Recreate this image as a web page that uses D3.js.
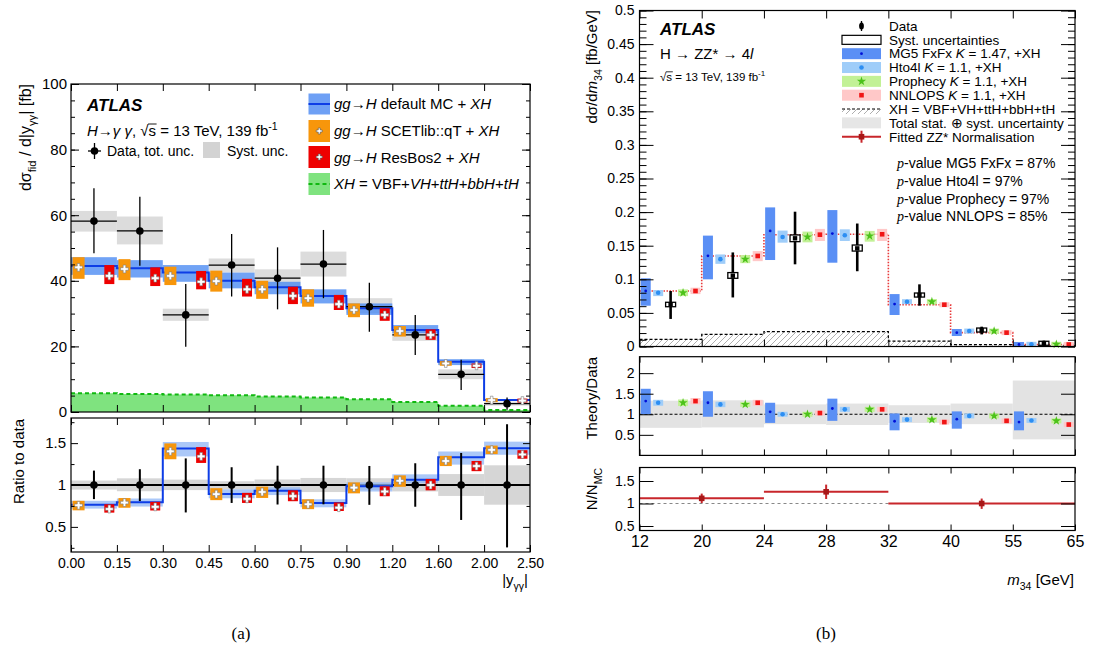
<!DOCTYPE html>
<html><head><meta charset="utf-8">
<script src="https://cdn.jsdelivr.net/npm/d3@7"></script>
<style>
body{margin:0;background:#fff;}
svg{font-family:"Liberation Sans",Arial,Helvetica,sans-serif;}
</style></head><body>
<svg id="c" width="1095" height="647" xmlns="http://www.w3.org/2000/svg"></svg>
<script>
// ================= DATA : panel (a) =================
const aEdges = [0, 0.15, 0.30, 0.45, 0.60, 0.75, 0.90, 1.20, 1.60, 2.00, 2.50];
const aEdgeLabels = ["0.00","0.15","0.30","0.45","0.60","0.75","0.90","1.20","1.60","2.00","2.50"];
const aData     = [58.2, 55.2, 29.6, 44.8, 40.8, 45.1, 32.1, 23.5, 11.5, 2.55];
const aTotHi    = [68.2, 65.6, 39.0, 54.3, 50.2, 55.5, 39.4, 29.6, 15.9, 4.4];
const aTotLo    = [48.4, 44.6, 19.9, 35.2, 31.3, 34.7, 24.5, 17.4, 6.7, 0.65];
const aSystHi   = [61.3, 59.6, 31.5, 46.8, 43.5, 48.9, 34.7, 25.0, 13.0, 3.15];
const aSystLo   = [55.0, 51.1, 27.8, 42.5, 38.2, 41.3, 30.2, 21.7, 10.0, 1.95];
const aDefault   = [44.5, 43.8, 42.5, 40.0, 38.0, 35.4, 31.6, 25.0, 15.3, 3.67];
const aDefaultHi = [47.2, 46.3, 44.8, 42.5, 39.7, 37.4, 33.1, 26.5, 16.1, 3.87];
const aDefaultLo = [41.8, 41.0, 39.7, 37.7, 35.9, 33.1, 29.6, 24.0, 14.3, 3.47];
const aScet      = [44.1, 43.6, 41.5, 39.9, 37.4, 34.7, 31.1, 24.7, 14.8, 3.62];
const aScetHi    = [47.2, 46.6, 44.3, 43.1, 40.0, 37.4, 33.1, 26.2, 15.5, 3.75];
const aScetLo    = [40.6, 40.2, 38.7, 36.7, 34.5, 32.1, 28.9, 23.0, 14.1, 3.49];
const aResbos    = [41.5, 40.8, 39.7, 37.4, 35.4, 32.9, 29.6, 23.5, 14.1, 3.48];
const aResbosHi  = [44.8, 44.1, 43.0, 40.6, 38.2, 35.7, 31.6, 25.2, 14.8, 3.61];
const aResbosLo  = [39.0, 38.4, 37.4, 35.2, 32.9, 31.1, 27.8, 22.0, 13.4, 3.35];
const aXH        = [5.7, 5.5, 5.3, 5.1, 4.7, 4.45, 3.85, 3.05, 1.93, 0.6];
const aYTicks = [0, 20, 40, 60, 80, 100];
const aRTicks = [0.5, 1, 1.5];

// ================= DATA : panel (b) =================
const bEdges = [12, 20, 24, 28, 32, 40, 55, 65];
const bEdgeLabels = ["12","20","24","28","32","40","55","65"];
const bData     = [0.0628, 0.1054, 0.161, 0.146, 0.0766, 0.0245, 0.0048];
const bTotHi    = [0.0826, 0.140, 0.2006, 0.183, 0.0925, 0.0295, 0.0087];
const bTotLo    = [0.041, 0.073, 0.1223, 0.112, 0.0607, 0.018, 0.0009];
const bSystHi   = [0.0658, 0.110, 0.166, 0.151, 0.079, 0.0265, 0.0058];
const bSystLo   = [0.0592, 0.1015, 0.156, 0.142, 0.073, 0.022, 0.0038];
const bMG5      = [0.0826, 0.135, 0.172, 0.168, 0.0632, 0.0206, 0.0030];
const bMG5Hi    = [0.1015, 0.165, 0.207, 0.203, 0.078, 0.026, 0.0048];
const bMG5Lo    = [0.0607, 0.100, 0.1287, 0.1247, 0.0469, 0.0156, 0.0012];
const bHto4l    = [0.080, 0.130, 0.163, 0.1655, 0.0667, 0.023, 0.0033];
const bHto4lHi  = [0.084, 0.137, 0.1725, 0.1744, 0.0702, 0.024, 0.00345];
const bHto4lLo  = [0.075, 0.123, 0.1545, 0.157, 0.0632, 0.022, 0.00315];
const bProph    = [0.080, 0.130, 0.163, 0.1644, 0.0667, 0.023, 0.0033];
const bProphHi  = [0.085, 0.136, 0.171, 0.172, 0.0707, 0.024, 0.00345];
const bProphLo  = [0.075, 0.124, 0.155, 0.156, 0.0628, 0.022, 0.00315];
const bNNLOPS   = [0.0826, 0.1347, 0.1664, 0.167, 0.0622, 0.0206, 0.0030];
const bNNLOPSHi = [0.0875, 0.142, 0.175, 0.175, 0.0658, 0.0215, 0.00315];
const bNNLOPSLo = [0.078, 0.127, 0.157, 0.157, 0.0583, 0.0197, 0.00285];
const bXH       = [0.0107, 0.018, 0.022, 0.022, 0.008, 0.0027, 0.001];
// Theory / Data
const rMG5      = [1.32, 1.28, 1.06, 1.14, 0.83, 0.88, 0.81];
const rMG5Hi    = [1.62, 1.56, 1.28, 1.38, 1.02, 1.07, 1.07];
const rMG5Lo    = [1.00, 0.94, 0.79, 0.84, 0.61, 0.65, 0.61];
const rHto4l    = [1.28, 1.24, 1.00, 1.12, 0.87, 0.96, 0.85];
const rProph    = [1.28, 1.24, 1.00, 1.12, 0.87, 0.96, 0.84];
const rNNLOPS   = [1.32, 1.28, 1.03, 1.12, 0.81, 0.84, 0.75];
const rTotHi    = [1.33, 1.34, 1.24, 1.26, 1.22, 1.26, 1.82];
const rTotLo    = [0.67, 0.68, 0.76, 0.74, 0.79, 0.76, 0.39];
// N / N_MC (fitted ZZ* normalisation)
const normLo  = [12, 24, 32];
const normHi  = [24, 32, 65];
const normX   = [20, 28, 47.5];
const normVal = [1.115, 1.26, 1.0];
const normUp  = [1.22, 1.42, 1.11];
const normDn  = [1.01, 1.10, 0.88];
const bYTicks = [0, 0.05, 0.1, 0.15, 0.2, 0.25, 0.3, 0.35, 0.4, 0.45, 0.5];
const bRTicks = [0.5, 1, 1.5, 2];
const bNTicks = [0.5, 1, 1.5];
const pValues = [["MG5 FxFx", "87%"], ["Hto4l", "97%"], ["Prophecy", "97%"], ["NNLOPS", "85%"]];

// ================= HELPERS =================
const FONT = '"Liberation Sans", Arial, Helvetica, sans-serif';
const SERIF = '"Liberation Serif", "DejaVu Serif", serif';
const svg = d3.select("#c");
const defs = svg.append("defs");
defs.append("pattern").attr("id","hatch").attr("patternUnits","userSpaceOnUse")
  .attr("width",6).attr("height",6)
  .append("path").attr("d","M-1,1 L1,-1 M0,6 L6,0 M5,7 L7,5")
  .attr("stroke","#9a9a9a").attr("stroke-width",0.8);

function rich(g, x, y, parts, size, opts = {}) {
  const t = g.append("text").attr("font-size", size).attr("font-family", FONT).attr("fill", "#000");
  if (opts.rotate) t.attr("transform", `translate(${x},${y}) rotate(-90)`).attr("x",0).attr("y",0);
  else t.attr("x", x).attr("y", y);
  if (opts.anchor) t.attr("text-anchor", opts.anchor);
  if (opts.weight) t.attr("font-weight", opts.weight);
  if (opts.style) t.attr("font-style", opts.style);
  let shift = 0;
  const overl = [];
  parts.forEach(p => {
    const [txt, st] = typeof p === "string" ? [p, ""] : p;
    const fl = st.split(" ");
    const ts = t.append("tspan").text(txt);
    let target = 0;
    if (fl.includes("sub")) { target = size * 0.3; ts.attr("font-size", size * 0.7); }
    if (fl.includes("sup")) { target = -size * 0.4; ts.attr("font-size", size * 0.7); }
    if (target !== shift) { ts.attr("dy", target - shift); shift = target; }
    if (fl.includes("i")) ts.attr("font-style", "italic");
    if (fl.includes("serif")) ts.attr("font-family", SERIF);
    if (fl.includes("ol")) overl.push(ts);
  });
  overl.forEach(ts => {
    const bb = ts.node().getBBox();
    const yy = y - size * 0.8;
    g.append("line").attr("x1", bb.x - 0.5).attr("x2", bb.x + bb.width + 0.5)
      .attr("y1", yy).attr("y2", yy).attr("stroke", "#000").attr("stroke-width", Math.max(0.8, size * 0.06));
  });
  return t;
}

function axis(g, orient, scale, pos, values, size, fmt, fontSize, pad) {
  const gen = {left: d3.axisLeft, right: d3.axisRight, top: d3.axisTop, bottom: d3.axisBottom}[orient];
  const ax = gen(scale).tickValues(values).tickSizeInner(-size).tickSizeOuter(0)
    .tickPadding(pad || 4).tickFormat(fmt || (() => ""));
  const vert = orient === "left" || orient === "right";
  const sel = g.append("g").attr("transform", vert ? `translate(${pos},0)` : `translate(0,${pos})`).call(ax);
  sel.select(".domain").remove();
  sel.selectAll("line").attr("stroke", "#000").attr("stroke-width", 1);
  sel.selectAll("text").attr("font-size", fontSize || 14).attr("font-family", FONT).attr("fill", "#000");
  return sel;
}
function frame(g, x0, y0, x1, y1) {
  g.append("rect").attr("x", x0).attr("y", y0).attr("width", x1 - x0).attr("height", y1 - y0)
    .attr("fill", "none").attr("stroke", "#000").attr("stroke-width", 1.2);
}
const stepPts = (vals, edges) => edges.map((e, i) => ({x: e, y: vals[Math.min(i, vals.length - 1)]}));

// ================= PANEL (a) =================
const aL = 71, aR = 530, aT = 84, aB = 412, arT = 418, arB = 552;
const xA = d3.scaleLinear().domain(aEdges)
  .range(aEdges.map((e, i) => aL + i * (aR - aL) / (aEdges.length - 1)));
const yA = d3.scaleLinear().domain([0, 100]).range([aB, aT]);
const rA = d3.scaleLinear().domain([0.2, 1.8]).range([arB, arT]);
const binsA = d3.range(aData.length).map(i => ({i, lo: aEdges[i], hi: aEdges[i + 1]}));
const atA = (b, f) => xA(b.lo + f * (b.hi - b.lo));
const gA = svg.append("g");

// XH green area
gA.append("path").datum(stepPts(aXH, aEdges))
  .attr("d", d3.area().curve(d3.curveStepAfter).x(d => xA(d.x)).y0(yA(0)).y1(d => yA(d.y)))
  .attr("fill", "#7fe37f");
gA.append("path").datum(stepPts(aXH, aEdges))
  .attr("d", d3.line().curve(d3.curveStepAfter).x(d => xA(d.x)).y(d => yA(d.y)))
  .attr("fill", "none").attr("stroke", "#10b810").attr("stroke-width", 2).attr("stroke-dasharray", "4,3");
// syst boxes
gA.selectAll(".sys").data(binsA).enter().append("rect")
  .attr("x", b => xA(b.lo)).attr("width", b => xA(b.hi) - xA(b.lo))
  .attr("y", b => yA(aSystHi[b.i])).attr("height", b => yA(aSystLo[b.i]) - yA(aSystHi[b.i]))
  .attr("fill", "#dcdcdc");
// default MC band + line
gA.selectAll(".band").data(binsA).enter().append("rect")
  .attr("x", b => xA(b.lo)).attr("width", b => xA(b.hi) - xA(b.lo))
  .attr("y", b => yA(aDefaultHi[b.i])).attr("height", b => yA(aDefaultLo[b.i]) - yA(aDefaultHi[b.i]))
  .attr("fill", "#4d8cf3").attr("fill-opacity", 0.8);
gA.append("path").datum(stepPts(aDefault, aEdges))
  .attr("d", d3.line().curve(d3.curveStepAfter).x(d => xA(d.x)).y(d => yA(d.y)))
  .attr("fill", "none").attr("stroke", "#0d3de6").attr("stroke-width", 2);
// data bars
gA.selectAll(".dh").data(binsA).enter().append("line")
  .attr("x1", b => xA(b.lo)).attr("x2", b => xA(b.hi))
  .attr("y1", b => yA(aData[b.i])).attr("y2", b => yA(aData[b.i])).attr("stroke", "#000").attr("stroke-width", 1.3);
gA.selectAll(".dv").data(binsA).enter().append("line")
  .attr("x1", b => atA(b, 0.5)).attr("x2", b => atA(b, 0.5))
  .attr("y1", b => yA(aTotHi[b.i])).attr("y2", b => yA(aTotLo[b.i])).attr("stroke", "#000").attr("stroke-width", 1.3);
// prediction boxes with open crosses
function predBoxes(g, yS, center, hi, lo, frac, w, color, norm, minH, csize) {
  const nv = (arr, i) => norm ? arr[i] / norm[i] : arr[i];
  g.selectAll(null).data(binsA).enter().append("rect")
    .attr("x", b => atA(b, frac) - w / 2).attr("width", w)
    .attr("y", b => Math.min(yS(nv(hi, b.i)), yS(nv(center, b.i)) - minH / 2))
    .attr("height", b => Math.max(minH, yS(nv(lo, b.i)) - yS(nv(hi, b.i))))
    .attr("fill", color);
  g.selectAll(null).data(binsA).enter().append("path")
    .attr("d", d3.symbol(d3.symbolCross, csize)).attr("transform", b => `translate(${atA(b, frac)},${yS(nv(center, b.i))})`)
    .attr("fill", "#fff").attr("stroke", "#7a7a7a").attr("stroke-width", 0.6);
}
predBoxes(gA, yA, aScet, aScetHi, aScetLo, 0.165, 12, "#f7960b", null, 4, 34);
predBoxes(gA, yA, aResbos, aResbosHi, aResbosLo, 0.835, 10, "#ee0000", null, 4, 34);
gA.selectAll(".dot").data(binsA).enter().append("circle")
  .attr("cx", b => atA(b, 0.5)).attr("cy", b => yA(aData[b.i])).attr("r", 3.8).attr("fill", "#000");

// axes (a) main
axis(gA, "left", yA, aL, aYTicks, 8, d3.format("d"), 15, 4);
axis(gA, "left", yA, aL, d3.range(0, 101, 5), 4);
axis(gA, "right", yA, aR, aYTicks, 8);
axis(gA, "right", yA, aR, d3.range(0, 101, 5), 4);
axis(gA, "top", xA, aT, aEdges, 7);
axis(gA, "bottom", xA, aB, aEdges, 7);
frame(gA, aL, aT, aR, aB);

// ratio (a)
const gAr = svg.append("g");
gAr.selectAll(null).data(binsA).enter().append("rect")
  .attr("x", b => xA(b.lo)).attr("width", b => xA(b.hi) - xA(b.lo))
  .attr("y", b => rA(aSystHi[b.i] / aData[b.i])).attr("height", b => rA(aSystLo[b.i] / aData[b.i]) - rA(aSystHi[b.i] / aData[b.i]))
  .attr("fill", "#d6d6d6");
gAr.append("line").attr("x1", aL).attr("x2", aR).attr("y1", rA(1)).attr("y2", rA(1)).attr("stroke", "#000").attr("stroke-width", 2.2);
gAr.selectAll(null).data(binsA).enter().append("rect")
  .attr("x", b => xA(b.lo)).attr("width", b => xA(b.hi) - xA(b.lo))
  .attr("y", b => rA(aDefaultHi[b.i] / aData[b.i])).attr("height", b => rA(aDefaultLo[b.i] / aData[b.i]) - rA(aDefaultHi[b.i] / aData[b.i]))
  .attr("fill", "#8fb6f6").attr("fill-opacity", 0.75);
gAr.append("path").datum(stepPts(aDefault.map((v, i) => v / aData[i]), aEdges))
  .attr("d", d3.line().curve(d3.curveStepAfter).x(d => xA(d.x)).y(d => rA(d.y)))
  .attr("fill", "none").attr("stroke", "#0d3de6").attr("stroke-width", 2);
predBoxes(gAr, rA, aScet, aScetHi, aScetLo, 0.165, 12, "#f7960b", aData, 8, 34);
predBoxes(gAr, rA, aResbos, aResbosHi, aResbosLo, 0.835, 10, "#ee0000", aData, 8, 34);
gAr.selectAll(null).data(binsA).enter().append("line")
  .attr("x1", b => atA(b, 0.5)).attr("x2", b => atA(b, 0.5))
  .attr("y1", b => rA(Math.min(aTotHi[b.i] / aData[b.i], 1.8))).attr("y2", b => rA(Math.max(aTotLo[b.i] / aData[b.i], 0.2)))
  .attr("stroke", "#000").attr("stroke-width", 2);
gAr.selectAll(null).data(binsA).enter().append("circle")
  .attr("cx", b => atA(b, 0.5)).attr("cy", rA(1)).attr("r", 3.8).attr("fill", "#000");
axis(gAr, "left", rA, aL, aRTicks, 7, d3.format("~g"), 15, 5);
axis(gAr, "left", rA, aL, [0.25, 0.75, 1.25, 1.75], 3.5);
axis(gAr, "right", rA, aR, aRTicks, 7);
axis(gAr, "right", rA, aR, [0.25, 0.75, 1.25, 1.75], 3.5);
axis(gAr, "top", xA, arT, aEdges, 7);
axis(gAr, "bottom", xA, arB, aEdges, 7, (d, i) => aEdgeLabels[i], 14, 6);
frame(gAr, aL, arT, aR, arB);

// texts (a)
rich(gA, 87, 111, ["ATLAS"], 17, {weight: "bold", style: "italic"});
rich(gA, 87, 136, [["H", "i"], "→", ["γ γ", "i"], ", √", ["s", "ol"], " = 13 TeV, 139 fb", ["-1", "sup"]], 15);
gA.append("line").attr("x1", 88).attr("x2", 101).attr("y1", 151).attr("y2", 151).attr("stroke", "#000").attr("stroke-width", 1.3);
gA.append("line").attr("x1", 94.5).attr("x2", 94.5).attr("y1", 143).attr("y2", 159).attr("stroke", "#000").attr("stroke-width", 1.3);
gA.append("circle").attr("cx", 94.5).attr("cy", 151).attr("r", 3.8).attr("fill", "#000");
rich(gA, 107, 156, ["Data, tot. unc."], 14);
gA.append("rect").attr("x", 203).attr("y", 142).attr("width", 17).attr("height", 16).attr("fill", "#d3d3d3");
rich(gA, 227, 156, ["Syst. unc."], 14);
// legend (a)
const lgX = 308.5, lgW = 21.5;
gA.append("rect").attr("x", lgX).attr("y", 93.5).attr("width", lgW).attr("height", 21).attr("fill", "#6ea0f5");
gA.append("line").attr("x1", lgX).attr("x2", lgX + lgW).attr("y1", 104).attr("y2", 104).attr("stroke", "#0d3de6").attr("stroke-width", 2);
gA.append("rect").attr("x", lgX).attr("y", 120).attr("width", lgW).attr("height", 22).attr("fill", "#f7960b");
gA.append("path").attr("d", d3.symbol(d3.symbolCross, 20)).attr("transform", `translate(${lgX + lgW / 2},131)`).attr("fill", "#fff").attr("stroke", "#555").attr("stroke-width", 0.6);
gA.append("rect").attr("x", lgX).attr("y", 146).attr("width", lgW).attr("height", 22).attr("fill", "#ee0000");
gA.append("path").attr("d", d3.symbol(d3.symbolCross, 20)).attr("transform", `translate(${lgX + lgW / 2},157)`).attr("fill", "#fff").attr("stroke", "#555").attr("stroke-width", 0.6);
gA.append("rect").attr("x", lgX).attr("y", 173).attr("width", lgW).attr("height", 22).attr("fill", "#7fe37f");
gA.append("line").attr("x1", lgX).attr("x2", lgX + lgW).attr("y1", 184).attr("y2", 184).attr("stroke", "#10b810").attr("stroke-width", 2).attr("stroke-dasharray", "4,3");
const lgTx = 334;
rich(gA, lgTx, 109, [["gg", "i"], "→", ["H", "i"], " default MC + ", ["XH", "i"]], 15);
rich(gA, lgTx, 136, [["gg", "i"], "→", ["H", "i"], " SCETlib::qT + ", ["XH", "i"]], 15);
rich(gA, lgTx, 163, [["gg", "i"], "→", ["H", "i"], " ResBos2 + ", ["XH", "i"]], 15);
rich(gA, lgTx, 189, [["XH", "i"], " = VBF+", ["VH", "i"], "+", ["ttH", "i"], "+", ["bbH", "i"], "+", ["tH", "i"]], 15);
// axis titles (a)
rich(gA, 31, aT, ["dσ", ["fid", "sub"], " / d|y", ["γγ", "sub"], "| [fb]"], 16, {rotate: true, anchor: "end"});
rich(gA, 24, arT + 1, ["Ratio to data"], 15, {rotate: true, anchor: "end"});
rich(gA, 528, 585, ["|y", ["γγ", "sub"], "|"], 15, {anchor: "end"});
rich(gA, 241, 639, ["(a)"], 17, {anchor: "middle"}).attr("font-family", SERIF);

// ================= PANEL (b) =================
const bL = 639.5, bR = 1075, bT = 10.5, bB = 346.5;
const xB = d3.scaleLinear().domain(bEdges)
  .range(bEdges.map((e, i) => bL + i * (bR - bL) / (bEdges.length - 1)));
const yB = d3.scaleLinear().domain([0, 0.5]).range([bB, bT]);
const rB = d3.scaleLinear().domain([0, 2.4]).range([455.4, 356.7]);
const nB = d3.scaleLinear().domain([0.4, 1.8]).range([530.5, 467.5]);
const binsB = d3.range(bData.length).map(i => ({i, lo: bEdges[i], hi: bEdges[i + 1]}));
const atB = (b, f) => xB(b.lo + f * (b.hi - b.lo));
const gB = svg.append("g");
const BW = 10;

// XH hatched
gB.append("path").datum(stepPts(bXH, bEdges))
  .attr("d", d3.area().curve(d3.curveStepAfter).x(d => xB(d.x)).y0(yB(0)).y1(d => yB(d.y)))
  .attr("fill", "url(#hatch)");
gB.append("path").datum(stepPts(bXH, bEdges))
  .attr("d", d3.line().curve(d3.curveStepAfter).x(d => xB(d.x)).y(d => yB(d.y)))
  .attr("fill", "none").attr("stroke", "#000").attr("stroke-width", 1.2).attr("stroke-dasharray", "3,2");
// NNLOPS dotted step
gB.append("path").datum(stepPts(bNNLOPS, bEdges))
  .attr("d", d3.line().curve(d3.curveStepAfter).x(d => xB(d.x)).y(d => yB(d.y)))
  .attr("fill", "none").attr("stroke", "#e8393a").attr("stroke-width", 1.6).attr("stroke-dasharray", "1.5,1.5");

const models = [
  {v: bMG5, hi: bMG5Hi, lo: bMG5Lo, r: rMG5, f: 0.1, fill: "#5a8ff5", mark: "mg5"},
  {v: bHto4l, hi: bHto4lHi, lo: bHto4lLo, r: rHto4l, f: 0.3, fill: "#9fcdf9", mark: "hto4l"},
  {v: bProph, hi: bProphHi, lo: bProphLo, r: rProph, f: 0.7, fill: "#c2f196", mark: "proph"},
  {v: bNNLOPS, hi: bNNLOPSHi, lo: bNNLOPSLo, r: rNNLOPS, f: 0.9, fill: "#ffc8c8", mark: "nnlops"}
];
function marker(g, kind, x, y) {
  if (kind === "mg5") g.append("circle").attr("cx", x).attr("cy", y).attr("r", 1.4).attr("fill", "#0010d8");
  if (kind === "hto4l") g.append("circle").attr("cx", x).attr("cy", y).attr("r", 2.3).attr("fill", "#2d8ef2");
  if (kind === "proph") g.append("path").attr("d", d3.symbol(d3.symbolStar, 26)).attr("transform", `translate(${x},${y})`).attr("fill", "#4cc21a");
  if (kind === "nnlops") g.append("rect").attr("x", x - 2.3).attr("y", y - 2.3).attr("width", 4.6).attr("height", 4.6).attr("fill", "#f01515");
}
models.forEach(m => {
  gB.selectAll(null).data(binsB).enter().append("rect")
    .attr("x", b => atB(b, m.f) - BW / 2).attr("width", BW)
    .attr("y", b => Math.min(yB(m.hi[b.i]), yB(m.v[b.i]) - 2.5)).attr("height", b => Math.max(5, yB(m.lo[b.i]) - yB(m.hi[b.i])))
    .attr("fill", m.fill);
  binsB.forEach(b => marker(gB, m.mark, atB(b, m.f), yB(m.v[b.i])));
});
// data
gB.selectAll(null).data(binsB).enter().append("line")
  .attr("x1", b => atB(b, 0.5)).attr("x2", b => atB(b, 0.5))
  .attr("y1", b => yB(bTotHi[b.i])).attr("y2", b => yB(bTotLo[b.i]))
  .attr("stroke", "#000").attr("stroke-width", 2.6);
gB.selectAll(null).data(binsB).enter().append("rect")
  .attr("x", b => atB(b, 0.5) - 5).attr("width", 10)
  .attr("y", b => Math.min(yB(bSystHi[b.i]), yB(bData[b.i]) - 2))
  .attr("height", b => Math.max(4, yB(bSystLo[b.i]) - yB(bSystHi[b.i])))
  .attr("fill", "#fff").attr("stroke", "#000").attr("stroke-width", 1.3);
gB.selectAll(null).data(binsB).enter().append("rect")
  .attr("x", b => atB(b, 0.5) - 2.2).attr("y", b => yB(bData[b.i]) - 2.2).attr("width", 4.4).attr("height", 4.4)
  .attr("fill", "#000");

axis(gB, "left", yB, bL, bYTicks, 14, d3.format("~g"), 14, 5);
axis(gB, "left", yB, bL, d3.range(0, 51, 1).map(d => d / 100), 7);
axis(gB, "right", yB, bR, bYTicks, 14);
axis(gB, "right", yB, bR, d3.range(0, 51, 1).map(d => d / 100), 7);
axis(gB, "top", xB, bT, bEdges, 8);
axis(gB, "bottom", xB, bB, bEdges, 7);
frame(gB, bL, bT, bR, bB);

// texts (b)
rich(gB, 660, 35, ["ATLAS"], 17, {weight: "bold", style: "italic"});
rich(gB, 660, 59, ["H → ZZ* → 4", ["l", "i"]], 15);
rich(gB, 660, 81, ["√", ["s", "ol"], " = 13 TeV, 139 fb", ["-1", "sup"]], 11.5);
pValues.forEach((p, i) => {
  rich(gB, 897, 168 + i * 17.8, [["p", "i serif"], "-value " + p[0] + " = " + p[1]], 14);
});
// legend (b)
const lbX = 842, lbW = 39, lbC = lbX + lbW / 2, lbTx = 889;
const lbY = d3.range(9).map(i => 26 + i * 13.84);
gB.append("line").attr("x1", lbC).attr("x2", lbC).attr("y1", lbY[0] - 5).attr("y2", lbY[0] + 5).attr("stroke", "#000").attr("stroke-width", 1.3);
gB.append("ellipse").attr("cx", lbC).attr("cy", lbY[0]).attr("rx", 2.4).attr("ry", 3.6).attr("fill", "#000");
gB.append("rect").attr("x", lbX).attr("y", lbY[1] - 4.5).attr("width", lbW).attr("height", 9).attr("fill", "#fff").attr("stroke", "#000").attr("stroke-width", 1.2);
[["#5a8ff5", "mg5"], ["#9fcdf9", "hto4l"], ["#c2f196", "proph"], ["#ffc8c8", "nnlops"]].forEach((c, k) => {
  const yy = lbY[2 + k];
  gB.append("rect").attr("x", lbX).attr("y", yy - 5.5).attr("width", lbW).attr("height", 11).attr("fill", c[0]);
  marker(gB, c[1], lbC, yy);
});
gB.append("rect").attr("x", lbX).attr("y", lbY[6]).attr("width", lbW).attr("height", 5).attr("fill", "url(#hatch)");
gB.append("line").attr("x1", lbX).attr("x2", lbX + lbW).attr("y1", lbY[6]).attr("y2", lbY[6]).attr("stroke", "#000").attr("stroke-width", 1.1).attr("stroke-dasharray", "3,2");
gB.append("rect").attr("x", lbX).attr("y", lbY[7] - 5.5).attr("width", lbW).attr("height", 11).attr("fill", "#e6e6e6");
gB.append("line").attr("x1", lbX).attr("x2", lbX + lbW).attr("y1", lbY[8]).attr("y2", lbY[8]).attr("stroke", "#c8262b").attr("stroke-width", 2);
gB.append("line").attr("x1", lbC).attr("x2", lbC).attr("y1", lbY[8] - 6).attr("y2", lbY[8] + 6).attr("stroke", "#c8262b").attr("stroke-width", 2);
gB.append("rect").attr("x", lbC - 2.8).attr("y", lbY[8] - 2.8).attr("width", 5.6).attr("height", 5.6).attr("fill", "#a81818");
const legB = [
  ["Data"], ["Syst. uncertainties"],
  ["MG5 FxFx ", ["K", "i"], " = 1.47, +XH"],
  ["Hto4l ", ["K", "i"], " = 1.1, +XH"],
  ["Prophecy ", ["K", "i"], " = 1.1, +XH"],
  ["NNLOPS ", ["K", "i"], " = 1.1, +XH"],
  ["XH = VBF+VH+ttH+bbH+tH"],
  ["Total stat. ⊕ syst. uncertainty"],
  ["Fitted ZZ* Normalisation"]
];
legB.forEach((parts, i) => rich(gB, lbTx, lbY[i] + 4.8, parts, 13.5));

// Theory/Data panel
const gBr = svg.append("g");
gBr.selectAll(null).data(binsB).enter().append("rect")
  .attr("x", b => xB(b.lo)).attr("width", b => xB(b.hi) - xB(b.lo))
  .attr("y", b => rB(rTotHi[b.i])).attr("height", b => rB(rTotLo[b.i]) - rB(rTotHi[b.i]))
  .attr("fill", "#e3e3e3");
gBr.append("line").attr("x1", bL).attr("x2", bR).attr("y1", rB(1)).attr("y2", rB(1))
  .attr("stroke", "#000").attr("stroke-width", 1.1).attr("stroke-dasharray", "3,2");
models.forEach(m => {
  const hiR = (b) => m.mark === "mg5" ? rMG5Hi[b.i] : m.r[b.i] * (1 + (m.hi[b.i] - m.lo[b.i]) / (2 * m.v[b.i]));
  const loR = (b) => m.mark === "mg5" ? rMG5Lo[b.i] : m.r[b.i] * (1 - (m.hi[b.i] - m.lo[b.i]) / (2 * m.v[b.i]));
  gBr.selectAll(null).data(binsB).enter().append("rect")
    .attr("x", b => atB(b, m.f) - BW / 2).attr("width", BW)
    .attr("y", b => Math.min(rB(hiR(b)), rB(m.r[b.i]) - 2.5)).attr("height", b => Math.max(5, rB(loR(b)) - rB(hiR(b))))
    .attr("fill", m.fill);
  binsB.forEach(b => marker(gBr, m.mark, atB(b, m.f), rB(m.r[b.i])));
});
axis(gBr, "left", rB, bL, bRTicks, 14, d3.format("~g"), 14, 5);
axis(gBr, "right", rB, bR, bRTicks, 14);
axis(gBr, "top", xB, 356.7, bEdges, 6);
axis(gBr, "bottom", xB, 455.4, bEdges, 6);
frame(gBr, bL, 356.7, bR, 455.4);

// N/N_MC panel
const gBn = svg.append("g");
gBn.append("line").attr("x1", bL).attr("x2", bR).attr("y1", nB(1)).attr("y2", nB(1))
  .attr("stroke", "#888").attr("stroke-width", 1.1).attr("stroke-dasharray", "3,3");
normVal.forEach((v, i) => {
  gBn.append("line").attr("x1", xB(normLo[i])).attr("x2", xB(normHi[i])).attr("y1", nB(v)).attr("y2", nB(v))
    .attr("stroke", "#c8262b").attr("stroke-width", 2);
  gBn.append("line").attr("x1", xB(normX[i])).attr("x2", xB(normX[i])).attr("y1", nB(normUp[i])).attr("y2", nB(normDn[i]))
    .attr("stroke", "#c8262b").attr("stroke-width", 2);
  gBn.append("rect").attr("x", xB(normX[i]) - 2.8).attr("y", nB(v) - 2.8).attr("width", 5.6).attr("height", 5.6)
    .attr("fill", "#a81818");
});
axis(gBn, "left", nB, bL, bNTicks, 14, d3.format("~g"), 14, 5);
axis(gBn, "right", nB, bR, bNTicks, 14);
axis(gBn, "top", xB, 467.5, bEdges, 6);
axis(gBn, "bottom", xB, 530.5, bEdges, 6, (d, i) => bEdgeLabels[i], 16, 5);
frame(gBn, bL, 467.5, bR, 530.5);

// axis titles (b)
rich(gB, 597, 10, ["dσ/d", ["m", "i"], ["34", "sub"], " [fb/GeV]"], 15, {rotate: true, anchor: "end"});
rich(gB, 597, 357, ["Theory/Data"], 15, {rotate: true, anchor: "end"});
rich(gB, 597, 468, ["N/N", ["MC", "sub"]], 15, {rotate: true, anchor: "end"});
rich(gB, 1074, 585, [["m", "i"], ["34", "sub"], " [GeV]"], 15, {anchor: "end"});
rich(gB, 826, 639, ["(b)"], 17, {anchor: "middle"}).attr("font-family", SERIF);
</script></body></html>
